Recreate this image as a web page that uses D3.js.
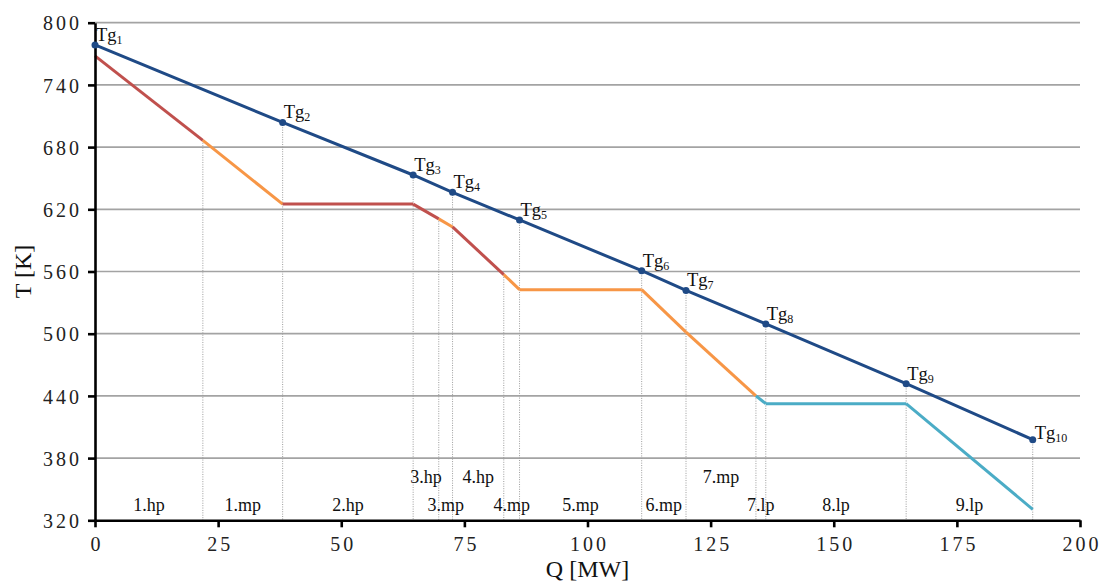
<!DOCTYPE html>
<html>
<head>
<meta charset="UTF-8">
<style>
  body { margin: 0; background: #fff; }
  svg { display: block; font-family: "Liberation Serif", "Times New Roman", serif; }
  .grid line { stroke: #a3a3a3; stroke-width: 1.7; }
  .axis path, .axis line { stroke: #000; stroke-width: 2.6; }
  .axis text { font-size: 20px; letter-spacing: 3px; fill: #222; font-family: "Liberation Serif", serif; }
  .drop { stroke: #9c9c9c; stroke-width: 1; stroke-dasharray: 1 1.4; }
  .title { font-size: 24px; fill: #111; }
  .seg-label { font-size: 18px; fill: #111; }
  .tg-label { font-size: 18.5px; fill: #111; }
</style>
<script src="https://d3js.org/d3.v7.min.js"></script>
</head>
<body>
<svg id="chart"></svg>
<script>
// boundaries of the heat exchanger sections on the Q axis [MW]
const qBounds = [0, 21.9, 38.1, 64.6, 69.8, 72.6, 83.0, 86.2, 111.0, 120.0, 134.2, 136.2, 164.7, 190.4]
// cold side (steam) temperature at each boundary [K]
const steamT = [768, 686.5, 625, 625, 610.8, 603, 557, 542.5, 542.5, 501.5, 440, 432.5, 432.5, 330.6]
// section names and pressure level
const sections = ['1.hp', '1.mp', '2.hp', '3.hp', '3.mp', '4.hp', '4.mp', '5.mp', '6.mp', '7.mp', '7.lp', '8.lp', '9.lp']
const levels = ['hp', 'mp', 'hp', 'hp', 'mp', 'hp', 'mp', 'mp', 'mp', 'mp', 'lp', 'lp', 'lp']
const labelRow = [0, 0, 0, 1, 0, 1, 0, 0, 0, 1, 0, 0, 0]

// gas temperatures Tg1..Tg10
const gasQ = [0, 38.1, 64.6, 72.6, 86.2, 111.0, 120.0, 136.2, 164.7, 190.4]
const gasT = [778.5, 703.8, 653.1, 636.4, 609.7, 560.8, 541.7, 509.4, 451.8, 397.8]

const xTicks = [0, 25, 50, 75, 100, 125, 150, 175, 200]
const yTicks = [320, 380, 440, 500, 560, 620, 680, 740, 800]

const levelColor = { hp: '#c0504d', mp: '#f79646', lp: '#4bacc6' }
const gasColor = '#1f4a86'

const width = 1105
const height = 584
const margin = { top: 22.7, right: 25, bottom: 63.7, left: 95 }

const svg = d3.select('#chart')
  .attr('width', width)
  .attr('height', height)

const x = d3.scaleLinear()
  .domain([0, 200])
  .range([margin.left, width - margin.right])

const y = d3.scaleLinear()
  .domain([320, 800])
  .range([height - margin.bottom, margin.top])

// horizontal grid
svg.append('g')
  .attr('class', 'grid')
  .selectAll('line')
  .data(yTicks.filter(d => d > 320))
  .enter()
  .append('line')
  .attr('x1', x(0))
  .attr('x2', x(200))
  .attr('y1', d => y(d))
  .attr('y2', d => y(d))

// dotted drop lines from the curves down to the axis
let gasAt = q => {
  let i = gasQ.indexOf(q)
  return i >= 0 ? gasT[i] : null
}
svg.append('g')
  .selectAll('line')
  .data(qBounds.slice(1).map((q, i) => ({ q, t: gasAt(q) !== null ? gasAt(q) : steamT[i + 1] })))
  .enter()
  .append('line')
  .attr('class', 'drop')
  .attr('x1', d => x(d.q))
  .attr('x2', d => x(d.q))
  .attr('y1', d => y(d.t))
  .attr('y2', y(320))

// section labels
svg.append('g')
  .selectAll('text')
  .data(sections)
  .enter()
  .append('text')
  .attr('class', 'seg-label')
  .attr('text-anchor', 'middle')
  .attr('x', (d, i) => x((qBounds[i] + qBounds[i + 1]) / 2))
  .attr('y', (d, i) => y(320) - (labelRow[i] ? 37 : 9))
  .text(d => d)

// steam line, coloured by pressure level
let line = d3.line().x(d => x(d[0])).y(d => y(d[1]))
svg.append('g')
  .selectAll('path')
  .data(sections.map((s, i) => ({
    level: levels[i],
    pts: [[qBounds[i], steamT[i]], [qBounds[i + 1], steamT[i + 1]]]
  })))
  .enter()
  .append('path')
  .attr('d', d => line(d.pts))
  .attr('fill', 'none')
  .attr('stroke', d => levelColor[d.level])
  .attr('stroke-width', 3)
  .attr('stroke-linecap', 'butt')

// axes
let yAxis = d3.axisLeft(y)
  .tickValues(yTicks)
  .tickSize(7)
  .tickSizeOuter(0)
  .tickPadding(6)
svg.append('g')
  .attr('class', 'axis')
  .attr('transform', `translate(${x(0)},0)`)
  .call(yAxis)
  .attr('font-family', null)
  .attr('font-size', null)
  .selectAll('text')
  .attr('dy', '0.36em')

let xAxis = d3.axisBottom(x)
  .tickValues(xTicks)
  .tickSize(7)
  .tickSizeOuter(0)
  .tickPadding(10)
svg.append('g')
  .attr('class', 'axis')
  .attr('transform', `translate(0,${y(320)})`)
  .call(xAxis)
  .attr('font-family', null)
  .attr('font-size', null)
  .selectAll('text')
  .attr('dx', '1.5')

// gas line
let gasPts = gasQ.map((q, i) => [q, gasT[i]])
svg.append('path')
  .attr('d', line(gasPts))
  .attr('fill', 'none')
  .attr('stroke', gasColor)
  .attr('stroke-width', 3)

svg.append('g')
  .selectAll('circle')
  .data(gasPts)
  .enter()
  .append('circle')
  .attr('cx', d => x(d[0]))
  .attr('cy', d => y(d[1]))
  .attr('r', 3.5)
  .attr('fill', gasColor)

let tg = svg.append('g')
  .selectAll('text')
  .data(gasPts)
  .enter()
  .append('text')
  .attr('class', 'tg-label')
  .attr('x', (d, i) => x(d[0]) + (i === gasPts.length - 1 ? 2 : 1))
  .attr('y', (d, i) => y(d[1]) - (i === gasPts.length - 1 ? 1 : 4))
tg.append('tspan').text('Tg')
tg.append('tspan')
  .attr('dy', 3)
  .style('font-size', '12px')
  .text((d, i) => i + 1)

// axis titles
svg.append('text')
  .attr('class', 'title')
  .attr('text-anchor', 'middle')
  .attr('transform', `translate(31,${(y(320) + y(800)) / 2}) rotate(-90)`)
  .text('T [K]')

svg.append('text')
  .attr('class', 'title')
  .attr('text-anchor', 'middle')
  .attr('x', x(100))
  .attr('y', 577)
  .text('Q [MW]')
</script>
</body>
</html>
